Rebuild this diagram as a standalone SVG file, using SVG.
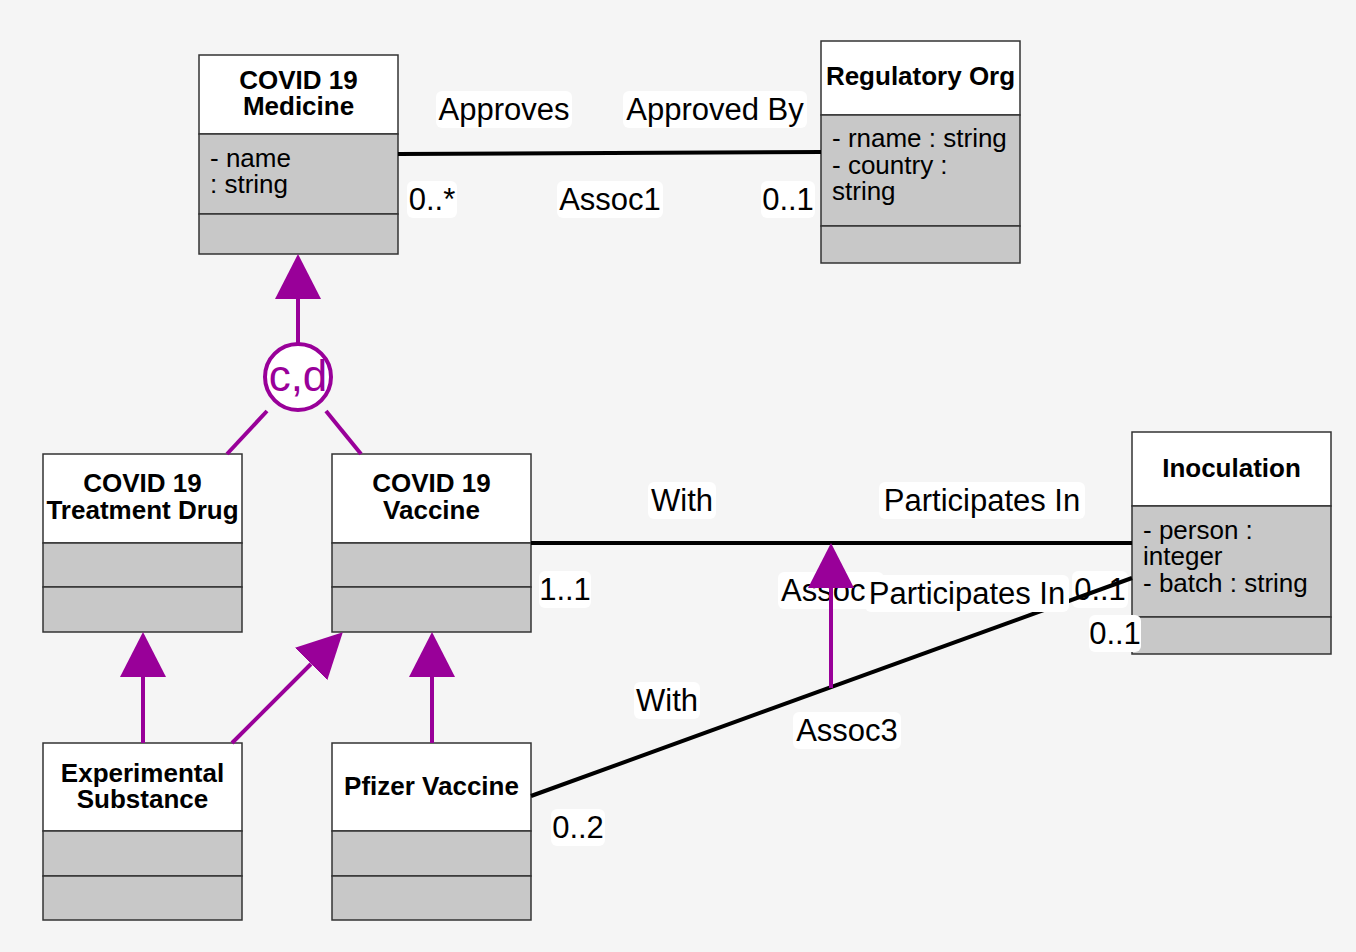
<svg xmlns="http://www.w3.org/2000/svg" width="1356" height="952" viewBox="0 0 1356 952">
<defs>
<style>
.hdr{fill:#ffffff;stroke:#333333;stroke-width:1.5}
.cmp{fill:#c8c8c8;stroke:#333333;stroke-width:1.5}
.nt{font-family:"Liberation Sans",Arial,sans-serif;font-weight:bold;font-size:26px;fill:#000;text-anchor:middle}
.at{font-family:"Liberation Sans",Arial,sans-serif;font-size:26px;fill:#000}
.lbg{fill:#ffffff}
.lt{font-family:"Liberation Sans",Arial,sans-serif;font-size:31px;fill:#000;text-anchor:middle}
.assoc{stroke:#000;stroke-width:4;fill:none}
.gen{stroke:#990099;stroke-width:4;fill:none}
.genm{stroke:#990099;stroke-width:4;fill:none;marker-end:url(#tri)}
</style>
<marker id="tri" markerUnits="userSpaceOnUse" markerWidth="46" markerHeight="47" refX="0" refY="23" orient="auto" viewBox="0 0 46 47">
<path d="M0,0 L45,23 L0,46 Z" fill="#990099"/>
</marker>
</defs>
<rect x="0" y="0" width="1356" height="952" fill="#f5f5f5"/>

<g id="node-medicine">
<rect class="hdr" x="199" y="55" width="199" height="79"/>
<rect class="cmp" x="199" y="134" width="199" height="80"/>
<rect class="cmp" x="199" y="214" width="199" height="40"/>
<text class="nt" x="298.5" y="89">COVID 19<tspan x="298.5" dy="26">Medicine</tspan></text>
<text class="at" x="210" y="167">- name<tspan x="210" dy="26">: string</tspan></text>
</g>

<g id="node-regulatory">
<rect class="hdr" x="821" y="41" width="199" height="74"/>
<rect class="cmp" x="821" y="115" width="199" height="111"/>
<rect class="cmp" x="821" y="226" width="199" height="37"/>
<text class="nt" x="920.5" y="85">Regulatory Org</text>
<text class="at" x="832" y="147">- rname : string<tspan x="832" dy="27">- country :</tspan><tspan x="832" dy="26">string</tspan></text>
</g>

<g id="node-treatment">
<rect class="hdr" x="43" y="454" width="199" height="89"/>
<rect class="cmp" x="43" y="543" width="199" height="44"/>
<rect class="cmp" x="43" y="587" width="199" height="45"/>
<text class="nt" x="142.5" y="492">COVID 19<tspan x="142.5" dy="27">Treatment Drug</tspan></text>
</g>

<g id="node-vaccine">
<rect class="hdr" x="332" y="454" width="199" height="89"/>
<rect class="cmp" x="332" y="543" width="199" height="44"/>
<rect class="cmp" x="332" y="587" width="199" height="45"/>
<text class="nt" x="431.5" y="492">COVID 19<tspan x="431.5" dy="27">Vaccine</tspan></text>
</g>

<g id="node-experimental">
<rect class="hdr" x="43" y="743" width="199" height="88"/>
<rect class="cmp" x="43" y="831" width="199" height="45"/>
<rect class="cmp" x="43" y="876" width="199" height="44"/>
<text class="nt" x="142.5" y="782">Experimental<tspan x="142.5" dy="26">Substance</tspan></text>
</g>

<g id="node-pfizer">
<rect class="hdr" x="332" y="743" width="199" height="88"/>
<rect class="cmp" x="332" y="831" width="199" height="45"/>
<rect class="cmp" x="332" y="876" width="199" height="44"/>
<text class="nt" x="431.5" y="795">Pfizer Vaccine</text>
</g>

<g id="node-inoculation">
<rect class="hdr" x="1132" y="432" width="199" height="74"/>
<rect class="cmp" x="1132" y="506" width="199" height="111"/>
<rect class="cmp" x="1132" y="617" width="199" height="37"/>
<text class="nt" x="1231.5" y="477">Inoculation</text>
<text class="at" x="1143" y="539">- person :<tspan x="1143" dy="26">integer</tspan><tspan x="1143" dy="27">- batch : string</tspan></text>
</g>

<g id="connectors">
<!-- Assoc1 -->
<line class="assoc" x1="398" y1="154" x2="821" y2="152"/>
<rect class="lbg" x="436" y="91" width="136" height="37" rx="6"/>
<text class="lt" x="504" y="120">Approves</text>
<rect class="lbg" x="623" y="91" width="184" height="37" rx="6"/>
<text class="lt" x="715" y="120">Approved By</text>
<rect class="lbg" x="407" y="181" width="50" height="37" rx="6"/>
<text class="lt" x="432" y="210">0..*</text>
<rect class="lbg" x="557" y="181" width="106" height="37" rx="6"/>
<text class="lt" x="610" y="210">Assoc1</text>
<rect class="lbg" x="761" y="181" width="54" height="37" rx="6"/>
<text class="lt" x="788" y="210">0..1</text>

<!-- Assoc2 -->
<line class="assoc" x1="531" y1="543" x2="1132" y2="543"/>
<rect class="lbg" x="648" y="482" width="68" height="37" rx="6"/>
<text class="lt" x="682" y="511">With</text>
<rect class="lbg" x="879" y="482" width="206" height="37" rx="6"/>
<text class="lt" x="982" y="511">Participates In</text>
<rect class="lbg" x="539" y="571" width="52" height="37" rx="6"/>
<text class="lt" x="565" y="600">1..1</text>
<rect class="lbg" x="778" y="572" width="106" height="37" rx="6"/>
<text class="lt" x="781" y="601" style="text-anchor:start">Assoc2</text>
<rect class="lbg" x="1072" y="571" width="56" height="37" rx="6"/>
<text class="lt" x="1100" y="600">0..1</text>

<!-- Assoc3 -->
<line class="assoc" x1="531" y1="796" x2="1132" y2="578"/>
<rect class="lbg" x="634" y="682" width="66" height="37" rx="6"/>
<text class="lt" x="667" y="711">With</text>
<rect class="lbg" x="865" y="575" width="204" height="37" rx="6"/>
<text class="lt" x="967" y="604">Participates In</text>
<rect class="lbg" x="551" y="809" width="54" height="37" rx="6"/>
<text class="lt" x="578" y="838">0..2</text>
<rect class="lbg" x="1089" y="615" width="52" height="37" rx="6"/>
<text class="lt" x="1115" y="644">0..1</text>
<rect class="lbg" x="793" y="712" width="108" height="37" rx="6"/>
<text class="lt" x="847" y="741">Assoc3</text>

<!-- association class link -->
<line class="genm" x1="831" y1="688" x2="831" y2="588"/>

<!-- generalization set -->
<line class="genm" x1="298" y1="343" x2="298" y2="299"/>
<line class="gen" x1="267" y1="411" x2="227" y2="454"/>
<line class="gen" x1="326" y1="411" x2="361" y2="454"/>
<circle cx="298" cy="377" r="33" fill="#ffffff" stroke="#990099" stroke-width="4"/>
<text x="298" y="391" font-family="Liberation Sans, Arial, sans-serif" font-size="44" fill="#990099" text-anchor="middle">c,d</text>

<!-- generalizations -->
<line class="genm" x1="143" y1="743" x2="143" y2="677"/>
<line class="genm" x1="232" y1="743" x2="311" y2="664"/>
<line class="genm" x1="432" y1="743" x2="432" y2="677"/>
</g>
</svg>
